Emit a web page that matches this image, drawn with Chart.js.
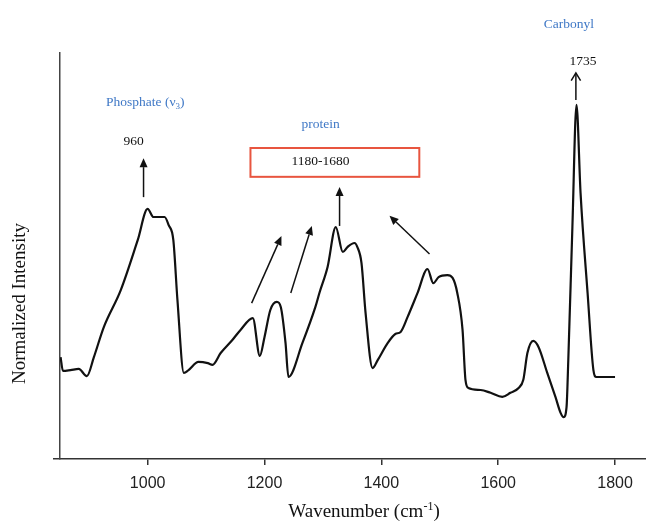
<!DOCTYPE html>
<html>
<head>
<meta charset="utf-8">
<script src="https://cdn.jsdelivr.net/npm/chart.js@4.4.1/dist/chart.umd.min.js"></script>
<style>
  html, body { margin: 0; padding: 0; background: #ffffff; }
  canvas { display: block; }
</style>
</head>
<body>
<canvas id="c" width="646" height="527"></canvas>
<script>
// ---- Data ----
const wavenumber = [851, 855, 868, 882, 896, 908, 925, 954, 983, 1000, 1010, 1029, 1036, 1044, 1051, 1062, 1070, 1087, 1103, 1111, 1125, 1145, 1159, 1180, 1192, 1200, 1210, 1221, 1228, 1236, 1241, 1265, 1287, 1294, 1308, 1322, 1334, 1342, 1354, 1359, 1366, 1373, 1385, 1394, 1411, 1424, 1433, 1445, 1462, 1479, 1489, 1498, 1513, 1522, 1530, 1539, 1544, 1549, 1570, 1587, 1607, 1621, 1635, 1643, 1650, 1660, 1669, 1684, 1698, 1707, 1712, 1717, 1720, 1727, 1734, 1741, 1753, 1763, 1768, 1800];
const intensity  = [25.1, 21.7, 21.9, 22.2, 20.4, 25.1, 32.5, 41.6, 53.9, 61.6, 59.6, 59.6, 57.6, 53.9, 39.2, 21.2, 21.9, 23.9, 23.6, 23.2, 26.1, 29.3, 31.8, 34.7, 25.4, 30.0, 36.7, 38.7, 37.4, 28.6, 20.2, 28.6, 37.4, 40.9, 47.3, 57.1, 51.0, 52.2, 53.2, 52.2, 48.3, 36.0, 22.4, 24.4, 28.6, 30.8, 31.3, 35.0, 40.9, 46.8, 43.3, 44.8, 45.3, 44.6, 40.9, 31.8, 19.5, 17.5, 17.0, 16.3, 15.3, 16.3, 17.5, 19.5, 26.1, 29.1, 27.6, 21.2, 15.3, 11.3, 10.3, 12.8, 24.4, 57.1, 87.2, 65.5, 40.9, 21.9, 20.2, 20.2];
const xTickValues = [1000, 1200, 1400, 1600, 1800];

// Annotation labels (placed in data units)
const arrowsFilled = [
  // [fromX, fromY, toX, toY]
  [993, 64.5, 993, 74.1],
  [1178, 38.4, 1229, 54.9],
  [1245, 40.9, 1281, 57.4],
  [1328.5, 57.4, 1328.5, 67.0],
  [1482.5, 50.5, 1414, 59.9]
];
const arrowsOpen = [
  [1733, 88.4, 1733, 95.1]
];
const blueLabels = [
  { text: 'Carbonyl', x: 1721, y: 107.1 },
  { text: 'protein', x: 1296, y: 82.5 }
];
const blackLabels = [
  { text: '1735', x: 1745, y: 97.8 },
  { text: '960', x: 976, y: 78.1 },
  { text: '1180-1680', x: 1296, y: 73.2 }
];
const phosphateLabel = { main: 'Phosphate (ν', sub: '3', tail: ')', x: 996, y: 87.7 };
const boxRange = { x1: 1176, x2: 1465, y1: 76.6, y2: 69.5 };

const SERIF = '"Liberation Serif", "Times New Roman", serif';
const BLUE = '#3f78c6';

const annotations = {
  id: 'annotations',
  afterDraw(chart) {
    const ctx = chart.ctx;
    const xs = chart.scales.x, ys = chart.scales.y;
    const px = v => xs.getPixelForValue(v);
    const py = v => ys.getPixelForValue(v);
    ctx.save();

    // filled arrows
    ctx.strokeStyle = '#111';
    ctx.fillStyle = '#111';
    ctx.lineWidth = 1.5;
    arrowsFilled.forEach(a => {
      const x1 = px(a[0]), y1 = py(a[1]), x2 = px(a[2]), y2 = py(a[3]);
      const ang = Math.atan2(y2 - y1, x2 - x1);
      const hl = 9, hw = 4;
      const bx = x2 - hl * Math.cos(ang), by = y2 - hl * Math.sin(ang);
      ctx.beginPath();
      ctx.moveTo(x1, y1);
      ctx.lineTo(bx, by);
      ctx.stroke();
      ctx.beginPath();
      ctx.moveTo(x2, y2);
      ctx.lineTo(bx + hw * Math.sin(ang), by - hw * Math.cos(ang));
      ctx.lineTo(bx - hw * Math.sin(ang), by + hw * Math.cos(ang));
      ctx.closePath();
      ctx.fill();
    });
    // open arrows
    arrowsOpen.forEach(a => {
      const x1 = px(a[0]), y1 = py(a[1]), x2 = px(a[2]), y2 = py(a[3]);
      const ang = Math.atan2(y2 - y1, x2 - x1);
      ctx.beginPath();
      ctx.moveTo(x1, y1);
      ctx.lineTo(x2, y2);
      ctx.stroke();
      ctx.beginPath();
      const hl = 9;
      ctx.moveTo(x2 - hl * Math.cos(ang - 0.55), y2 - hl * Math.sin(ang - 0.55));
      ctx.lineTo(x2, y2);
      ctx.lineTo(x2 - hl * Math.cos(ang + 0.55), y2 - hl * Math.sin(ang + 0.55));
      ctx.stroke();
    });

    // red box
    ctx.strokeStyle = '#e8553f';
    ctx.lineWidth = 2;
    const bx1 = px(boxRange.x1), bx2 = px(boxRange.x2), by1 = py(boxRange.y1), by2 = py(boxRange.y2);
    ctx.strokeRect(bx1, by1, bx2 - bx1, by2 - by1);

    // labels
    ctx.textAlign = 'center';
    ctx.textBaseline = 'middle';
    ctx.font = '13.5px ' + SERIF;
    ctx.fillStyle = BLUE;
    blueLabels.forEach(l => ctx.fillText(l.text, px(l.x), py(l.y)));
    ctx.fillStyle = '#111';
    blackLabels.forEach(l => ctx.fillText(l.text, px(l.x), py(l.y)));

    // phosphate label with subscript
    ctx.fillStyle = BLUE;
    ctx.textAlign = 'left';
    const mainW = ctx.measureText(phosphateLabel.main).width;
    ctx.font = '9px ' + SERIF;
    const subW = ctx.measureText(phosphateLabel.sub).width;
    ctx.font = '13.5px ' + SERIF;
    const tailW = ctx.measureText(phosphateLabel.tail).width;
    let sx = px(phosphateLabel.x) - (mainW + subW + tailW) / 2;
    const sy = py(phosphateLabel.y);
    ctx.fillText(phosphateLabel.main, sx, sy);
    sx += mainW;
    ctx.font = '9px ' + SERIF;
    ctx.fillText(phosphateLabel.sub, sx, sy + 4);
    sx += subW;
    ctx.font = '13.5px ' + SERIF;
    ctx.fillText(phosphateLabel.tail, sx, sy);

    // axis titles
    ctx.fillStyle = '#111';
    ctx.textBaseline = 'alphabetic';
    const t1 = 'Wavenumber (cm', t2 = '-1', t3 = ')';
    ctx.font = '19px ' + SERIF;
    const w1 = ctx.measureText(t1).width, w3 = ctx.measureText(t3).width;
    ctx.font = '12px ' + SERIF;
    const w2 = ctx.measureText(t2).width;
    let tx = 364 - (w1 + w2 + w3) / 2;
    const ty = 517;
    ctx.font = '19px ' + SERIF;
    ctx.fillText(t1, tx, ty); tx += w1;
    ctx.font = '12px ' + SERIF;
    ctx.fillText(t2, tx, ty - 7); tx += w2;
    ctx.font = '19px ' + SERIF;
    ctx.fillText(t3, tx, ty);

    ctx.save();
    ctx.translate(25, 303.5);
    ctx.rotate(-Math.PI / 2);
    ctx.textAlign = 'center';
    ctx.font = '19px ' + SERIF;
    ctx.fillText('Normalized Intensity', 0, 0);
    ctx.restore();

    ctx.restore();
  }
};

new Chart(document.getElementById('c'), {
  type: 'line',
  data: {
    datasets: [{
      data: wavenumber.map((x, i) => ({ x: x, y: intensity[i] })),
      borderColor: '#111',
      borderWidth: 2.2,
      pointRadius: 0,
      fill: false,
      cubicInterpolationMode: 'monotone'
    }]
  },
  options: {
    responsive: false,
    animation: false,
    devicePixelRatio: 1,
    layout: { padding: { top: 53, left: 0, right: 0, bottom: 0 } },
    plugins: { legend: { display: false }, tooltip: { enabled: false } },
    scales: {
      x: {
        type: 'linear',
        min: 850,
        max: 1853,
        afterBuildTicks: s => { s.ticks = xTickValues.map(v => ({ value: v })); },
        afterFit: s => { s.height = 68; },
        grid: { drawOnChartArea: false, drawTicks: true, tickLength: 6, color: '#333', lineWidth: 1.5 },
        border: { color: '#333', width: 1.5 },
        ticks: {
          font: { family: '"Liberation Sans", Arial, sans-serif', size: 16 },
          color: '#222',
          padding: 9,
          maxRotation: 0,
          callback: v => String(v)
        }
      },
      y: {
        min: 0,
        max: 100,
        afterBuildTicks: s => { s.ticks = [{ value: 0 }]; },
        afterFit: s => { s.width = 60; },
        ticks: { display: false },
        grid: { drawOnChartArea: false, drawTicks: true, tickLength: 7, color: '#333', lineWidth: 1.5 },
        border: { color: '#444', width: 1.5 }
      }
    }
  },
  plugins: [annotations]
});
</script>
</body>
</html>
